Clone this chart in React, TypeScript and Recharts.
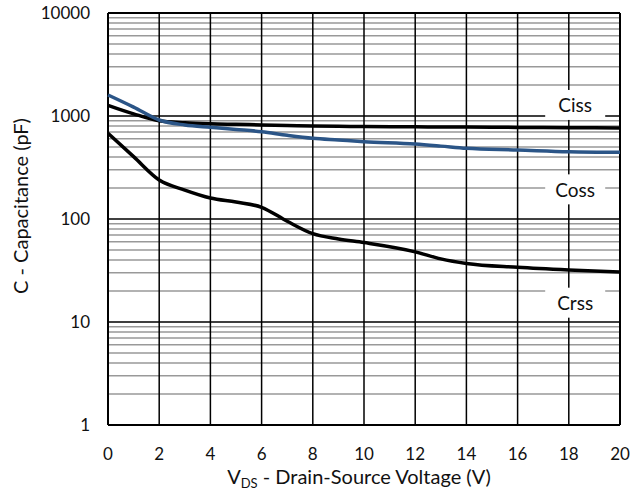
import { LineChart, Line, XAxis, YAxis, ReferenceLine, ReferenceDot, Label } from 'recharts';

const vds = [0, 1, 2, 3, 4, 5, 6, 7, 8, 9, 10, 12, 13, 14, 16, 18, 20];
const ciss = [1270, 1050, 900, 860, 840, 830, 820, 810, 800, 795, 790, 785, 782, 780, 775, 770, 765];
const coss = [1600, 1220, 914, 818, 776, 740, 704, 650, 608, 585, 563, 534, 510, 485, 468, 450, 444];
const crss = [679, 403, 239, 191, 160, 146, 130, 95, 72, 64, 59, 48, 41, 37, 34, 32, 30.5];

const xTicks = [0, 2, 4, 6, 8, 10, 12, 14, 16, 18, 20];
const yTicks = [1, 10, 100, 1000, 10000];
const minorTicks = [1, 10, 100, 1000].flatMap((d) => [2, 3, 4, 5, 6, 7, 8, 9].map((m) => m * d));

const labels = [
  { name: 'Ciss', x: 18.25, y: 1280 },
  { name: 'Coss', x: 18.25, y: 194 },
  { name: 'Crss', x: 18.25, y: 15.4 },
];

const data = vds.map((v, i) => ({ v, ciss: ciss[i], coss: coss[i], crss: crss[i] }));

const font = 'Lato, "Open Sans", sans-serif';

function TagBox(props: any) {
  const { cx, cy, text } = props;
  return (
    <g>
      <rect x={cx - 30} y={cy - 15} width={60} height={30} fill="#fff" />
      <text x={cx} y={cy} textAnchor="middle" dominantBaseline="central" fontSize={19} fill="#111" fontFamily={font}>
        {text}
      </text>
    </g>
  );
}

export default function App() {
  return (
    <div style={{ position: 'absolute', left: 0, top: 0, width: 635, height: 497, background: '#fff', fontFamily: font }}>
      <LineChart width={635} height={497} data={data} margin={{ top: 13, right: 15, bottom: 0, left: 20 }}>
        <XAxis
          dataKey="v"
          type="number"
          domain={[0, 20]}
          ticks={xTicks}
          axisLine={false}
          tickLine={false}
          tick={{ fontSize: 17, fill: '#111', fontFamily: font }}
          tickMargin={17}
          height={72}
        >
          <Label
            content={(p: any) => {
              const vb = p.viewBox;
              return (
                <text x={vb.x + vb.width / 2 - 5} y={vb.y + 59} textAnchor="middle" fontSize={20} fill="#111" fontFamily={font}>
                  V<tspan fontSize={13} dy={4}>DS</tspan>
                  <tspan dy={-4}> - Drain-Source Voltage (V)</tspan>
                </text>
              );
            }}
          />
        </XAxis>
        <YAxis
          scale="log"
          domain={[1, 10000]}
          ticks={yTicks}
          allowDataOverflow
          axisLine={false}
          tickLine={false}
          tick={{ fontSize: 17, fill: '#111', fontFamily: font }}
          tickMargin={12}
          width={88}
        >
          <Label
            content={(p: any) => {
              const vb = p.viewBox;
              const cx = vb.x;
              const cy = vb.y + vb.height / 2 - 13;
              return (
                <text
                  x={cx}
                  y={cy}
                  transform={`rotate(-90, ${cx}, ${cy})`}
                  textAnchor="middle"
                  dominantBaseline="central"
                  fontSize={20}
                  fill="#111"
                  fontFamily={font}
                >
                  C - Capacitance (pF)
                </text>
              );
            }}
          />
        </YAxis>
        {minorTicks.map((t) => (
          <ReferenceLine key={'m' + t} y={t} stroke="#999" strokeWidth={1.5} />
        ))}
        {xTicks.map((t) => (
          <ReferenceLine key={'x' + t} x={t} stroke="#000" strokeWidth={t === 0 || t === 20 ? 2 : 1.5} />
        ))}
        {yTicks.map((t) => (
          <ReferenceLine key={'y' + t} y={t} stroke="#000" strokeWidth={t === 1 || t === 10000 ? 2 : 1.5} />
        ))}
        <Line type="monotone" dataKey="ciss" stroke="#000" strokeWidth={3.5} dot={false} isAnimationActive={false} />
        <Line type="monotone" dataKey="coss" stroke="#2b5587" strokeWidth={3.5} dot={false} isAnimationActive={false} />
        <Line type="monotone" dataKey="crss" stroke="#000" strokeWidth={3.5} dot={false} isAnimationActive={false} />
        {labels.map((l) => (
          <ReferenceDot
            key={l.name}
            x={l.x}
            y={l.y}
            r={0}
            shape={(p: any) => <TagBox cx={p.cx} cy={p.cy} text={l.name} />}
          />
        ))}
      </LineChart>
    </div>
  );
}
